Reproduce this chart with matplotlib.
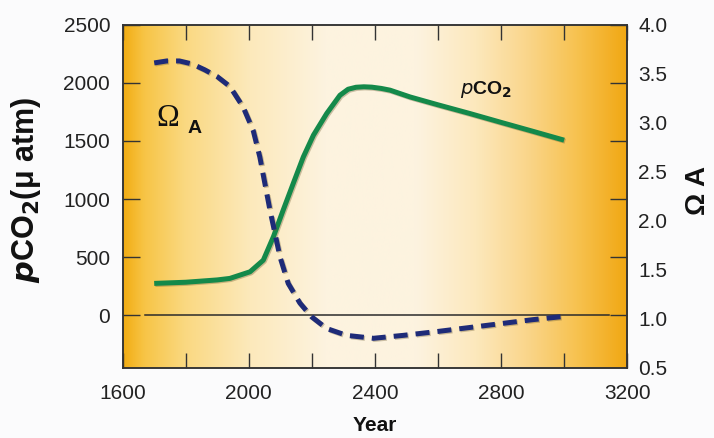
import matplotlib
matplotlib.use('Agg')
import matplotlib.pyplot as plt
import matplotlib.patheffects as pe
from matplotlib.colors import LinearSegmentedColormap
from matplotlib.ticker import MultipleLocator, FormatStrFormatter
import numpy as np

plt.rcParams['font.family'] = ['Liberation Sans', 'DejaVu Sans']

# pCO2 (uatm) over time
pco2_years = [1700, 1800, 1900, 1940, 2004, 2046, 2078, 2109, 2141, 2173,
              2205, 2247, 2289, 2315, 2340, 2365, 2390, 2420, 2448, 2511,
              2600, 2700, 2800, 2900, 3000]
pco2_vals = [275, 285, 305, 318, 375, 475, 676, 905, 1135, 1363,
             1550, 1736, 1893, 1945, 1962, 1966, 1963, 1952, 1937, 1879,
             1811, 1737, 1660, 1584, 1507]

# aragonite saturation state (Omega_A) over time
omega_years = [1700, 1740, 1780, 1820, 1860, 1900, 1940, 1982, 2014, 2035,
               2051, 2067, 2083, 2099, 2125, 2162, 2199, 2247, 2310, 2395,
               2490, 2600, 2700, 2800, 2900, 2990]
omega_vals = [3.61, 3.63, 3.63, 3.60, 3.54, 3.47, 3.37, 3.16, 2.92, 2.65,
              2.38, 2.11, 1.87, 1.63, 1.36, 1.16, 1.02, 0.90, 0.83, 0.80,
              0.83, 0.87, 0.91, 0.95, 0.99, 1.02]

fig = plt.figure(figsize=(7.14, 4.38), dpi=100, facecolor='#fbfbfc')
rect = [0.1718, 0.1605, 0.7066, 0.7831]

# orange-cream-orange backdrop lives on its own axes underneath
bg_ax = fig.add_axes(rect, zorder=0)
bg_ax.set_axis_off()
bg = LinearSegmentedColormap.from_list('bg', [
    (0.00, '#f2ad14'), (0.04, '#f7c445'), (0.12, '#fad880'),
    (0.25, '#fce9bb'), (0.40, '#fdf3df'), (0.58, '#fdf3e0'),
    (0.70, '#fce8bc'), (0.80, '#fad68c'), (0.90, '#f7c250'),
    (1.00, '#f1a712')])
bg_ax.imshow(np.linspace(0, 1, 512).reshape(1, -1), cmap=bg, aspect='auto',
             extent=[0, 1, 0, 1], interpolation='bicubic')
bg_ax.set_xlim(0, 1)
bg_ax.set_ylim(0, 1)

ax = fig.add_axes(rect, zorder=1)
ax.set_facecolor('none')
ax.set_xlim(1600, 3200)
ax.set_ylim(-450, 2500)

ax.axhline(0, xmin=0.044, xmax=0.963, color='#2b2b2b', lw=1.1, zorder=1)

shadow = [pe.SimpleLineShadow(offset=(0.8, -0.8), shadow_color='#6b5a30', alpha=0.35),
          pe.Normal()]
ax.plot(pco2_years, pco2_vals, color='#14894a', lw=3.6, solid_capstyle='butt',
        solid_joinstyle='round', zorder=3, path_effects=shadow)

ax2 = ax.twinx()
ax2.set_ylim(0.5, 4.0)
ax2.plot(omega_years, omega_vals, color='#1e2b78', lw=3.6,
         dashes=(2.8, 1.6), dash_capstyle='butt', zorder=3, path_effects=shadow)

for a in (ax, ax2):
    for s in a.spines.values():
        s.set_color('#333333')
        s.set_linewidth(1.1)

ax.xaxis.set_major_locator(MultipleLocator(400))
ax.xaxis.set_minor_locator(MultipleLocator(200))
ax.yaxis.set_major_locator(MultipleLocator(500))
ax.tick_params(axis='x', which='both', direction='in', top=True, bottom=True,
               length=11, width=1.0, color='#333333', pad=12,
               labelsize=15, labelcolor='#222222')
ax.tick_params(axis='y', which='both', direction='in', left=True, right=True,
               length=12, width=1.0, color='#333333', pad=9,
               labelsize=15, labelcolor='#222222')

ax2.yaxis.set_major_locator(MultipleLocator(0.5))
ax2.yaxis.set_major_formatter(FormatStrFormatter('%.1f'))
ax2.tick_params(axis='y', length=0, pad=8, labelsize=15, labelcolor='#222222')

ax.set_xlabel('Year', fontsize=15, fontweight='bold', labelpad=9, color='#111111')
ax.set_ylabel(r'$\boldsymbol{p}$CO$_\mathbf{2}$(μ atm)', fontsize=22,
              fontweight='bold', color='#111111', va='center')
ax.yaxis.set_label_coords(-0.192, 0.518)
fig.text(0.978, 0.565, 'Ω A', rotation=90, fontsize=20,
         fontweight='bold', ha='center', va='center', color='#111111')

ax.text(1743, 1690, 'Ω', fontsize=22, family='Liberation Serif',
        ha='center', va='center', color='#111111', zorder=4)
ax.text(1829, 1610, 'A', fontsize=14, fontweight='bold',
        ha='center', va='center', color='#111111', zorder=4)
ax.text(2752, 1939, r'$\it{p}$CO$_\mathbf{2}$', fontsize=14, fontweight='bold',
        ha='center', va='center', color='#111111', zorder=4)

plt.savefig('out.png', dpi=100, facecolor=fig.get_facecolor())
plt.close()
